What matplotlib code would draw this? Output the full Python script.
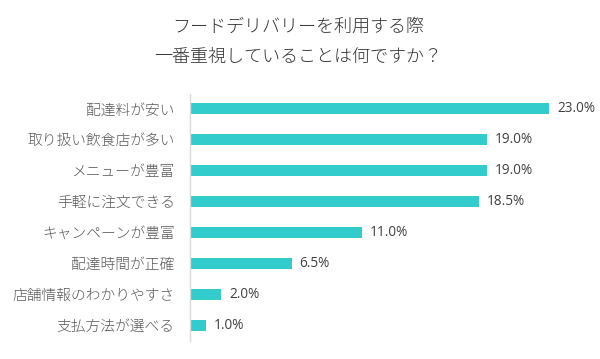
import matplotlib
matplotlib.use("Agg")
import matplotlib.pyplot as plt

plt.rcParams['font.family'] = ['Noto Sans CJK JP', 'DejaVu Sans']

categories = ["配達料が安い", "取り扱い飲食店が多い", "メニューが豊富", "手軽に注文できる",
              "キャンペーンが豊富", "配達時間が正確", "店舗情報のわかりやすさ", "支払方法が選べる"]
values = [23.0, 19.0, 19.0, 18.5, 11.0, 6.5, 2.0, 1.0]
value_labels = ["23.0%", "19.0%", "19.0%", "18.5%", "11.0%", "6.5%", "2.0%", "1.0%"]
title_lines = ["フードデリバリーを利用する際", "一番重視していることは何ですか？"]

W, H = 600, 359
fig = plt.figure(figsize=(W/100, H/100), dpi=100)
ax = fig.add_axes([190/W, 1 - 340.5/H, 400/W, (340.5-93.5)/H])

y = list(range(len(categories)))
ax.barh(y, values, height=0.36, color="#33CCCC", zorder=2)
ax.set_xlim(0, 25.6)
ax.set_ylim(len(categories) - 0.5, -0.5)
ax.set_yticks(y)
ax.set_yticklabels(categories, fontsize=10.6, color="#595959", fontweight='light')
ax.tick_params(axis='y', length=0, pad=11)
ax.set_xticks([])
for s in ["top", "right", "bottom"]:
    ax.spines[s].set_visible(False)
ax.spines["left"].set_color("#D9D9D9")
ax.spines["left"].set_linewidth(1.0)

for yi, v, lab in zip(y, values, value_labels):
    ax.text(v + 0.5, yi, lab, va='center', ha='left', fontsize=9.8,
            color="#404040", family=['Open Sans', 'DejaVu Sans'])

fig.text(298/W, 1 - 27/H, title_lines[0], ha='center', va='center', fontsize=13,
         color="#333333", fontweight='light')
fig.text(298/W, 1 - 57/H, title_lines[1], ha='center', va='center', fontsize=13,
         color="#333333", fontweight='light')

fig.savefig("out.png", dpi=100, facecolor="white")
